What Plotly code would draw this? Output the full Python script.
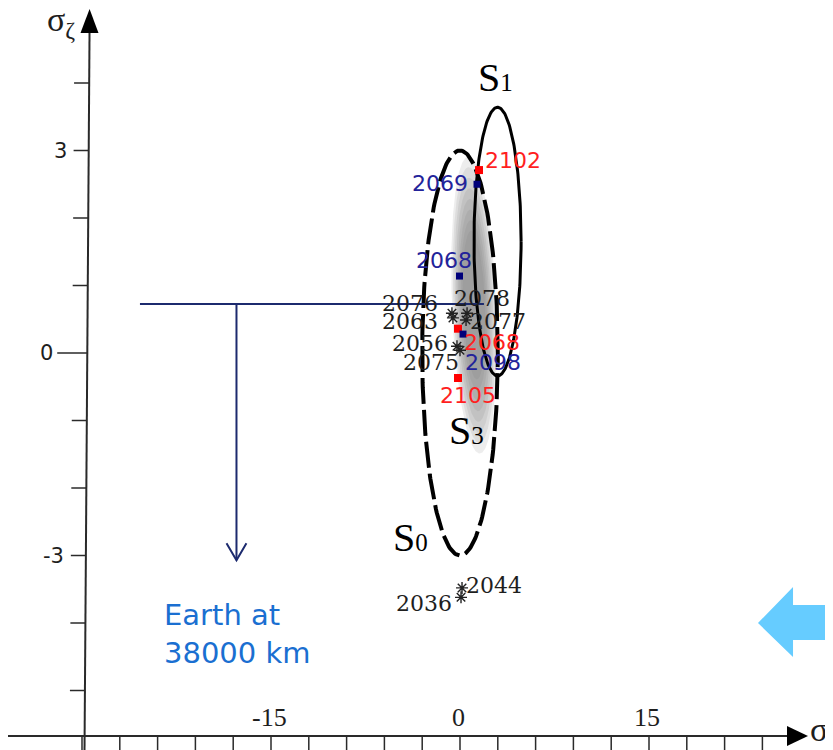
import numpy as np
import plotly.graph_objects as go

# ---------------- data (in sigma units) ----------------
red_years = ["2102", "2068", "2105"]
red_x = [1.51, -0.16, -0.16]
red_y = [2.71, 0.36, -0.37]

blue_years = ["2069", "2068", "2098"]
blue_x = [1.35, -0.04, 0.24]
blue_y = [2.50, 1.14, 0.28]

ast_years = ["2076", "2078", "2063", "2077", "2056", "2075", "2036", "2044"]
ast_x = [-0.64, 0.56, -0.56, 0.48, -0.24, 0.00, 0.08, 0.16]
ast_y = [0.59, 0.59, 0.52, 0.49, 0.10, 0.04, -3.62, -3.48]

# ellipses: centre x, centre y, semi-axis x, semi-axis y, shear
S0 = dict(cx=0.0, cy=0.0, a=3.0, b=3.0, s=0.0)
S1 = dict(cx=2.98, cy=1.65, a=1.87, b=1.99, s=0.0)
S3 = dict(cx=1.11, cy=0.71, a=1.75, b=2.2, s=-0.45)

x_tick_vals = [-30, -27, -24, -21, -18, -15, -12, -9, -6, -3, 0, 3, 6, 9, 12, 15, 18, 21, 24]
x_tick_labels = {-15: "-15", 0: "0", 15: "15"}
y_tick_vals = [-5, -4, -3, -2, -1, 0, 1, 2, 3, 4]
y_tick_labels = {3: "3", 0: "0", -3: "-3"}

earth_y_level = 0.726          # horizontal line level
earth_x_arrow = -17.74         # vertical arrow position
earth_arrow_end = -3.07

# ---------------- layout constants ----------------
PXX = 12.6   # px per x-unit
PXY = 67.5   # px per y-unit
W, H = 825, 742
X_MIN = -(460 - 8) / PXX
Y_MAX = (353 - 8) / PXY
X_RANGE = [X_MIN, X_MIN + W / PXX]
Y_RANGE = [Y_MAX - H / PXY, Y_MAX]
X_AXIS_Y = -5.674
Y_AXIS_TOP = (-29.40, 5.096)
Y_AXIS_BOT = (-29.80, Y_RANGE[0])


def yaxis_x(v):
    (x1, y1), (x2, y2) = Y_AXIS_TOP, Y_AXIS_BOT
    return x1 + (v - y1) * (x2 - x1) / (y2 - y1)


def ellipse(e, scale=1.0, n=240):
    t = np.linspace(0, 2 * np.pi, n)
    x = e["cx"] + scale * (e["a"] * np.cos(t) + e["s"] * np.sin(t))
    y = e["cy"] + scale * e["b"] * np.sin(t)
    return x, y


fig = go.Figure()

# gray blurred S3 (many faint layers -> soft edge)
for sc in np.linspace(1.0, 0.5, 8):
    ex, ey = ellipse(S3, sc)
    fig.add_trace(go.Scatter(x=ex, y=ey, mode="lines", fill="toself",
                             fillcolor="rgba(105,105,105,0.12)", line=dict(width=0),
                             hoverinfo="skip"))

# S0 dashed
ex, ey = ellipse(S0)
fig.add_trace(go.Scatter(x=ex, y=ey, mode="lines",
                         line=dict(color="black", width=4, dash="26px,6px"), hoverinfo="skip"))
# S1 solid
ex, ey = ellipse(S1)
fig.add_trace(go.Scatter(x=ex, y=ey, mode="lines",
                         line=dict(color="black", width=3), hoverinfo="skip"))

# markers
fig.add_trace(go.Scatter(x=red_x, y=red_y, mode="markers",
                         marker=dict(symbol="square", size=8, color="#ff0000"), hoverinfo="skip"))
fig.add_trace(go.Scatter(x=blue_x, y=blue_y, mode="markers",
                         marker=dict(symbol="square", size=7, color="#00007a"), hoverinfo="skip"))
fig.add_trace(go.Scatter(x=ast_x, y=ast_y, mode="markers",
                         marker=dict(symbol="asterisk-open", size=10, color="#222",
                                     line=dict(width=1.4, color="#222")), hoverinfo="skip"))

shapes = []
AX = dict(color="#2a2a2a", width=2)
# y axis (slightly slanted as in the scan)
shapes.append(dict(type="line", x0=Y_AXIS_TOP[0], y0=4.8, x1=Y_AXIS_BOT[0], y1=Y_AXIS_BOT[1], line=AX))
shapes.append(dict(type="path",
                   path=f"M {Y_AXIS_TOP[0]},{Y_AXIS_TOP[1]} L {-30.12},4.74 L {-28.69},4.74 Z",
                   fillcolor="black", line=dict(width=0)))
# x axis
shapes.append(dict(type="line", x0=X_RANGE[0], y0=X_AXIS_Y, x1=26.3, y1=X_AXIS_Y, line=AX))
shapes.append(dict(type="path",
                   path=f"M 27.62,{X_AXIS_Y} L 25.95,{X_AXIS_Y + 0.148} L 25.95,{X_AXIS_Y - 0.148} Z",
                   fillcolor="black", line=dict(width=0)))
for v in x_tick_vals:
    shapes.append(dict(type="line", x0=v, x1=v, y0=X_AXIS_Y, y1=Y_RANGE[0],
                       line=dict(color="#2a2a2a", width=1.5)))
for v in y_tick_vals:
    xa = yaxis_x(v)
    ln = 30 if v == 0 else 15
    shapes.append(dict(type="line", x0=xa - ln / PXX, x1=xa, y0=v, y1=v,
                       line=dict(color="#2a2a2a", width=1.5)))

# navy Earth line and arrow
NAVY = "#1c2a6e"
shapes.append(dict(type="line", x0=-25.40, x1=1.90, y0=earth_y_level, y1=earth_y_level,
                   line=dict(color=NAVY, width=2)))
shapes.append(dict(type="line", x0=earth_x_arrow, x1=earth_x_arrow, y0=earth_y_level,
                   y1=earth_arrow_end, line=dict(color=NAVY, width=2)))
shapes.append(dict(type="path",
                   path=(f"M {earth_x_arrow - 0.79},{earth_arrow_end + 0.25} "
                         f"L {earth_x_arrow},{earth_arrow_end} "
                         f"L {earth_x_arrow + 0.79},{earth_arrow_end + 0.25}"),
                   line=dict(color=NAVY, width=2)))

# light blue arrow at right
shapes.append(dict(type="path",
                   path="M 23.65,-4.0 L 26.43,-3.467 L 26.43,-3.733 L 30.5,-3.733 "
                        "L 30.5,-4.252 L 26.43,-4.252 L 26.43,-4.504 Z",
                   fillcolor="#66ccff", line=dict(width=0)))

ann = []
SANS = "DejaVu Sans"
SERIF = "DejaVu Serif"

# year labels (offsets in px from their markers)
red_off = {"2102": (34, 10), "2068": (34, -14), "2105": (10, -18)}
blue_off = {"2069": (-37, 1), "2068": (-16, 16), "2098": (30, -28)}
ast_off = {"2076": (-42, 10), "2078": (15, 15), "2063": (-43, -4), "2077": (32, -2),
           "2056": (-37, 3), "2075": (-29, -12), "2036": (-37, -6), "2044": (32, 2)}

for yr, x, y in zip(red_years, red_x, red_y):
    dx, dy = red_off[yr]
    ann.append(dict(x=x, y=y, text=yr, showarrow=False, xshift=dx, yshift=dy,
                    font=dict(family=SANS, size=22, color="#ff1f1f")))
for yr, x, y in zip(blue_years, blue_x, blue_y):
    dx, dy = blue_off[yr]
    ann.append(dict(x=x, y=y, text=yr, showarrow=False, xshift=dx, yshift=dy,
                    font=dict(family=SANS, size=22, color="#23239a")))
for yr, x, y in zip(ast_years, ast_x, ast_y):
    dx, dy = ast_off[yr]
    ann.append(dict(x=x, y=y, text=yr, showarrow=False, xshift=dx, yshift=dy,
                    font=dict(family=SERIF, size=22, color="#1e1e1e")))

# ellipse names
SFONT = dict(family="Liberation Serif", size=40, color="black")
ann.append(dict(x=S1["cx"], y=S1["cy"] + S1["b"], text="S<span style='font-size:25px'>1</span>",
                showarrow=False, yshift=30, xshift=-2, font=SFONT))
ann.append(dict(x=S3["cx"], y=S3["cy"] - S3["b"], text="S<span style='font-size:25px'>3</span>",
                showarrow=False, yshift=23, xshift=-7, font=SFONT))
ann.append(dict(x=S0["cx"], y=S0["cy"] - S0["b"], text="S<span style='font-size:25px'>0</span>",
                showarrow=False, yshift=18, xshift=-50, font=SFONT))

# tick labels
for v, lab in x_tick_labels.items():
    ann.append(dict(x=v, y=X_AXIS_Y, text=lab, showarrow=False, yshift=19, xshift=-2,
                    font=dict(family="Liberation Serif", size=26, color="#1e1e1e")))
for v, lab in y_tick_labels.items():
    ann.append(dict(x=yaxis_x(v), y=v, text=lab, showarrow=False, xanchor="right",
                    xshift=-32 if v == 0 else -20,
                    font=dict(family=SANS, size=21, color="#1e1e1e")))

# axis titles
ann.append(dict(x=yaxis_x(4.9), y=4.9, text="σ<sub>ζ</sub>", showarrow=False, xanchor="right",
                xshift=-12, yshift=0, font=dict(family="Liberation Serif", size=34, color="#1e1e1e")))
ann.append(dict(x=27.62, y=X_AXIS_Y, text="σ<sub>ξ</sub>", showarrow=False, xanchor="left",
                yshift=4, font=dict(family="Liberation Serif", size=34, color="#1e1e1e")))

# Earth label
ann.append(dict(x=-23.65, y=-4.156, text="Earth at<br>38000 km", showarrow=False,
                xanchor="left", align="left",
                font=dict(family=SANS, size=29, color="#1a6fd1")))

fig.update_layout(
    width=W, height=H,
    margin=dict(l=0, r=0, t=0, b=0),
    paper_bgcolor="white", plot_bgcolor="white",
    showlegend=False,
    xaxis=dict(range=X_RANGE, visible=False, fixedrange=True),
    yaxis=dict(range=Y_RANGE, visible=False, fixedrange=True),
    shapes=shapes, annotations=ann,
)

fig.write_html("out.html")
